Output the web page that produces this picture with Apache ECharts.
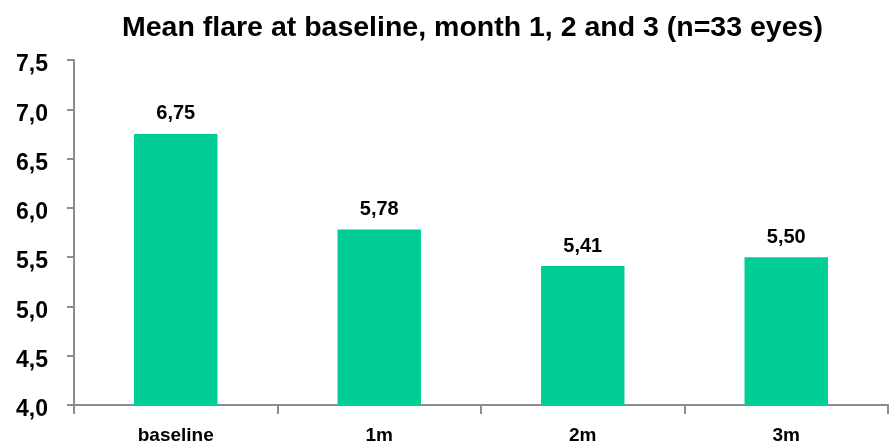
<!DOCTYPE html>
<html>
<head>
<meta charset="utf-8">
<script src="https://cdn.jsdelivr.net/npm/echarts@6/dist/echarts.min.js"></script>
<style>
html,body{margin:0;padding:0;background:#fff;}
#chart{width:891px;height:445px;}
</style>
</head>
<body>
<div id="chart"></div>
<script>
var categories = ['baseline', '1m', '2m', '3m'];
var values = [6.75, 5.78, 5.41, 5.50];
var yTicks = [4.0, 4.5, 5.0, 5.5, 6.0, 6.5, 7.0, 7.5];
var titleText = 'Mean flare at baseline, month 1, 2 and 3 (n=33 eyes)';

var fmt = function (v) { return '{v|' + Number(v).toFixed(1).replace('.', ',') + '}'; };
var fmt2 = function (v) { return Number(v).toFixed(2).replace('.', ','); };
var font = 'Liberation Sans, Arial, sans-serif';

var chart = echarts.init(document.getElementById('chart'), null, {renderer: 'canvas'});
chart.setOption({
  animation: false,
  backgroundColor: '#fff',
  title: {
    text: titleText,
    left: 117,
    top: 9,
    textStyle: {fontFamily: font, fontWeight: 'bold', fontSize: 28.5, color: '#000'}
  },
  grid: {left: 74, right: 3, top: 60, bottom: 38, containLabel: false},
  xAxis: {
    type: 'category',
    data: categories,
    axisLine: {lineStyle: {color: '#8c8c8c', width: 2}},
    axisTick: {show: true, alignWithLabel: false, length: 9, lineStyle: {color: '#8c8c8c', width: 2}},
    axisLabel: {fontFamily: font, fontWeight: 'bold', fontSize: 19, color: '#000', margin: 21}
  },
  yAxis: {
    type: 'value',
    min: yTicks[0],
    max: yTicks[yTicks.length - 1],
    interval: 0.5,
    splitLine: {show: false},
    axisLine: {show: true, lineStyle: {color: '#8c8c8c', width: 2}},
    axisTick: {show: true, length: 7, lineStyle: {color: '#8c8c8c', width: 2}},
    axisLabel: {
      fontFamily: font, fontWeight: 'bold', fontSize: 23, color: '#000', margin: 26,
      formatter: fmt,
      rich: {v: {fontFamily: font, fontWeight: 'bold', fontSize: 23, color: '#000', padding: [10, 0, 0, 0]}}
    }
  },
  series: [{
    type: 'bar',
    data: values,
    barWidth: '41%',
    itemStyle: {color: '#00CE96'},
    label: {
      show: true,
      position: 'top',
      distance: 10,
      fontFamily: font,
      fontWeight: 'bold',
      fontSize: 20,
      color: '#000',
      formatter: function (p) { return fmt2(p.value); }
    }
  }]
});
</script>
</body>
</html>
